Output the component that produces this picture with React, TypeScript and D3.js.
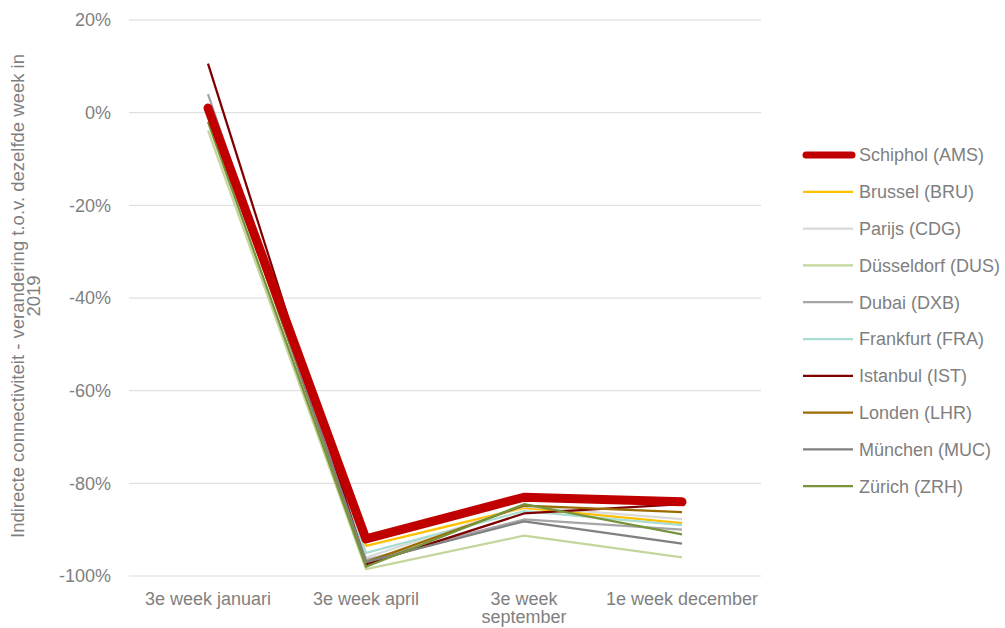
import { useEffect, useRef } from 'react';
import * as d3 from 'd3';

// Periods on the x axis
const periods = ['3e week januari', '3e week april', '3e week september', '1e week december'];

// Change in indirect connectivity vs same week in 2019 (%)
const airports = [
  'Schiphol (AMS)', 'Brussel (BRU)', 'Parijs (CDG)', 'Düsseldorf (DUS)', 'Dubai (DXB)',
  'Frankfurt (FRA)', 'Istanbul (IST)', 'Londen (LHR)', 'München (MUC)', 'Zürich (ZRH)',
];
const ams = [1, -92, -83, -84];
const bru = [0, -93.5, -85.3, -88.6];
const cdg = [1, -96, -85, -87.7];
const dus = [-3.8, -98.5, -91.3, -96];
const dxb = [4, -96.5, -87.8, -90];
const fra = [0, -95, -86, -89];
const ist = [10.6, -97.5, -86.5, -84.5];
const lhr = [0.5, -97, -84.8, -86.2];
const muc = [1, -97, -88.2, -93];
const zrh = [-2, -98, -84.5, -91];
const seriesValues = [ams, bru, cdg, dus, dxb, fra, ist, lhr, muc, zrh];
const colors = [
  '#C00000', '#FFC000', '#D9D9D9', '#C3D69B', '#A6A6A6',
  '#A9DCD2', '#7F0000', '#9C6B00', '#808080', '#77933C',
];
const yTicks = [20, 0, -20, -40, -60, -80, -100];

export default function App() {
  const ref = useRef<SVGSVGElement>(null);

  useEffect(() => {
    if (!ref.current) return;
    const svg = d3.select(ref.current);
    svg.selectAll('*').remove();

    const font = '"Liberation Sans", Arial, sans-serif';
    const textColor = '#7F7F7F';
    const fs = 18;
    const left = 129, right = 761, top = 20, bottom = 576;

    const x = d3.scaleBand().domain(periods).range([left, right]);
    const y = d3.scaleLinear().domain([-100, 20]).range([bottom, top]);

    // Gridlines
    svg.append('g')
      .selectAll('line')
      .data(yTicks)
      .enter()
      .append('line')
      .attr('x1', left)
      .attr('x2', right)
      .attr('y1', d => y(d))
      .attr('y2', d => y(d))
      .attr('stroke', '#D9D9D9')
      .attr('stroke-width', 1);

    // Y tick labels
    svg.append('g')
      .selectAll('text')
      .data(yTicks)
      .enter()
      .append('text')
      .attr('x', 111)
      .attr('y', d => y(d))
      .attr('dy', '0.35em')
      .attr('text-anchor', 'end')
      .attr('font-family', font)
      .attr('font-size', fs)
      .attr('fill', textColor)
      .text(d => `${d}%`);

    // X labels (september wraps)
    const xLabels = svg.append('g');
    periods.forEach(p => {
      const cx = (x(p) || 0) + x.bandwidth() / 2;
      const lines = p === '3e week september' ? ['3e week', 'september'] : [p];
      const t = xLabels.append('text')
        .attr('x', cx)
        .attr('y', 605)
        .attr('text-anchor', 'middle')
        .attr('font-family', font)
        .attr('font-size', fs)
        .attr('fill', textColor);
      lines.forEach((l, i) => {
        t.append('tspan').attr('x', cx).attr('dy', i === 0 ? 0 : 18).text(l);
      });
    });

    // Y axis title
    const title = svg.append('text')
      .attr('transform', 'translate(25,296) rotate(-90)')
      .attr('text-anchor', 'middle')
      .attr('font-family', font)
      .attr('font-size', 18.5)
      .attr('fill', textColor);
    title.append('tspan').attr('x', 0).attr('dy', '-0.05em')
      .text('Indirecte connectiviteit - verandering t.o.v. dezelfde week in');
    title.append('tspan').attr('x', 0).attr('dy', '0.85em').text('2019');

    // Lines
    const line = d3.line<number>()
      .x((_, i) => (x(periods[i]) || 0) + x.bandwidth() / 2)
      .y(d => y(d));

    const order = [1, 2, 3, 4, 5, 6, 7, 8, 9, 0];
    svg.append('g')
      .selectAll('path')
      .data(order)
      .enter()
      .append('path')
      .attr('d', i => line(seriesValues[i]) || '')
      .attr('fill', 'none')
      .attr('stroke', i => colors[i])
      .attr('stroke-width', i => (i === 0 ? 9 : 2.25))
      .attr('stroke-linecap', i => (i === 0 ? 'round' : 'butt'))
      .attr('stroke-linejoin', 'round');

    // Legend
    const legend = svg.append('g')
      .selectAll('g')
      .data(airports)
      .enter()
      .append('g')
      .attr('transform', (_, i) => `translate(0,${155 + i * 36.8})`);

    legend.append('line')
      .attr('x1', (_, i) => (i === 0 ? 806 : 803))
      .attr('x2', (_, i) => (i === 0 ? 852 : 853))
      .attr('y1', 0)
      .attr('y2', 0)
      .attr('stroke', (_, i) => colors[i])
      .attr('stroke-width', (_, i) => (i === 0 ? 7 : 2.25))
      .attr('stroke-linecap', (_, i) => (i === 0 ? 'round' : 'butt'));

    legend.append('text')
      .attr('x', 859)
      .attr('y', 0)
      .attr('dy', '0.35em')
      .attr('font-family', font)
      .attr('font-size', fs)
      .attr('fill', textColor)
      .text(d => d);
  }, []);

  return (
    <svg
      ref={ref}
      width={1005}
      height={628}
      style={{ position: 'absolute', left: 0, top: 0, background: '#fff' }}
    />
  );
}
